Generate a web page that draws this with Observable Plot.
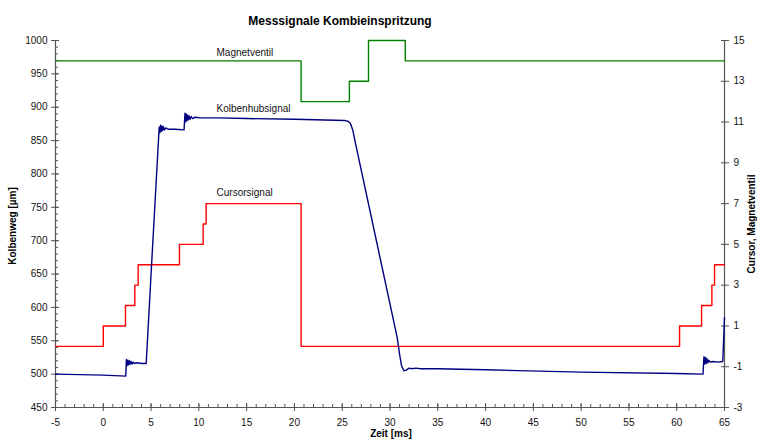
<!DOCTYPE html>
<html>
<head>
<meta charset="utf-8">
<script src="https://cdn.jsdelivr.net/npm/d3@7"></script>
<script src="https://cdn.jsdelivr.net/npm/@observablehq/plot@0.6"></script>
<style>
  html, body { margin: 0; padding: 0; background: #fff; overflow: hidden; }
</style>
</head>
<body>
<div id="chart"></div>
<script>
// ---- Data ----
const titleText = "Messsignale Kombieinspritzung";
const xLabel = "Zeit [ms]";
const yLeftLabel = "Kolbenweg [µm]";
const yRightLabel = "Cursor, Magnetventil";

const xTicks = [-5, 0, 5, 10, 15, 20, 25, 30, 35, 40, 45, 50, 55, 60, 65];
const xMinor = d3.range(-5, 66, 1);
const yLeftTicks = [450, 500, 550, 600, 650, 700, 750, 800, 850, 900, 950, 1000];
const yLeftMinor = d3.range(450, 1001, 10);
const yRightTicks = [-3, -1, 1, 3, 5, 7, 9, 11, 13, 15];

// Magnetventil (right axis), step signal
const mvTime  = [-5, 20.7, 25.75, 27.75, 31.6, 65];
const mvValue = [14, 12, 13, 15, 14, 14];

// Cursorsignal (right axis), step signal
const csTime  = [-5, 0, 2.32, 3.3, 3.65, 7.97, 10.45, 10.76, 20.7, 60.3, 62.6, 63.68, 63.96, 65];
const csValue = [0, 1, 2, 3, 4, 5, 6, 7, 0, 1, 2, 3, 4, 4];

// Kolbenhubsignal (left axis)
const khTime = [
  -5, 0, 2.35, 2.42, 2.5, 2.58, 2.66, 2.74, 2.82, 2.9, 3.0, 3.1, 3.25, 3.5, 4.0, 4.49,
  5.0, 5.85, 5.92, 5.99, 6.06, 6.13, 6.2, 6.3, 6.4, 6.55, 6.8, 7.5, 8.45,
  8.55, 8.62, 8.69, 8.76, 8.83, 8.9, 8.98, 9.08, 9.2, 9.35, 9.6, 10.2, 12, 15, 20,
  25.3, 25.6, 25.85, 26.1, 26.4, 30.75, 31.0, 31.2, 31.45, 31.7, 32.0, 32.3, 32.7, 33.2,
  35, 40, 50, 60, 62.75, 62.85, 62.93, 63.01, 63.09, 63.17, 63.26, 63.36, 63.5, 63.8,
  64.3, 64.82, 65
];
const khValue = [
  500, 498.5, 497, 522, 513, 521, 514, 520, 515, 519, 515, 518, 516, 517, 516, 516,
  650, 870, 862, 873, 864, 872, 865, 871, 866, 869, 867, 867, 866,
  891, 878, 890, 880, 888, 881, 887, 882, 886, 883, 885, 884, 884, 883, 882,
  880, 879, 876, 866, 845, 555, 530, 513, 505, 506, 509, 508, 509, 508,
  508, 506.5, 503, 501, 500, 526, 515, 525, 516, 523, 517, 521, 518, 519,
  518, 519, 585
];

const labelNames = ["Magnetventil", "Kolbenhubsignal", "Cursorsignal"];
const labelX = [11.85, 11.85, 11.85];
const labelY = [981.6, 897.6, 772];

// ---- Right axis mapping onto left scale ----
const leftDomain = [450, 1000];
const rightDomain = [-3, 15];
const toLeft = r => leftDomain[0] + (r - rightDomain[0]) * (leftDomain[1] - leftDomain[0]) / (rightDomain[1] - rightDomain[0]);
const fromLeft = v => rightDomain[0] + (v - leftDomain[0]) * (rightDomain[1] - rightDomain[0]) / (leftDomain[1] - leftDomain[0]);

const mv = mvTime.map((t, i) => ({t, v: toLeft(mvValue[i])}));
const cs = csTime.map((t, i) => ({t, v: toLeft(csValue[i])}));
const kh = khTime.map((t, i) => ({t, v: khValue[i]}));
const labels = labelNames.map((n, i) => ({n, x: labelX[i], y: labelY[i]}));

const axisColor = "#555";
const font = "'Liberation Sans', Arial, Helvetica, sans-serif";

const chart = Plot.plot({
  width: 757,
  height: 448,
  marginLeft: 55,
  marginRight: 33,
  marginTop: 40,
  marginBottom: 41,
  style: {fontFamily: font, fontSize: "10px", color: "#000", background: "#fff"},
  x: {domain: [-5, 65], axis: null},
  y: {domain: leftDomain, axis: null},
  marks: [
    // axis lines
    Plot.ruleX([-5], {stroke: axisColor, strokeWidth: 1.2}),
    Plot.ruleX([65], {stroke: axisColor, strokeWidth: 1.2}),
    Plot.ruleY([450], {stroke: axisColor, strokeWidth: 1.2}),
    // bottom axis
    Plot.axisX(xTicks, {anchor: "bottom", tickSize: 8, dy: -4, text: null, stroke: axisColor}),
    Plot.axisX(xMinor, {anchor: "bottom", tickSize: 3, dy: -3, text: null, stroke: axisColor}),
    Plot.axisX(xTicks, {anchor: "bottom", tickSize: 0, tickPadding: 11, fill: "#111", label: null,
      tickFormat: d => String(d)}),
    // left axis
    Plot.axisY(yLeftTicks, {anchor: "left", tickSize: 8, dx: 4, text: null, stroke: axisColor}),
    Plot.axisY(yLeftMinor, {anchor: "left", tickSize: 3, dx: 3, text: null, stroke: axisColor}),
    Plot.axisY(yLeftTicks, {anchor: "left", tickSize: 0, tickPadding: 8, fill: "#111", label: null,
      tickFormat: d => String(d)}),
    // right axis
    Plot.axisY(yRightTicks.map(toLeft), {anchor: "right", tickSize: 8, dx: -4, text: null, stroke: axisColor}),
    Plot.axisY(yRightTicks.map(toLeft), {anchor: "right", tickSize: 0, tickPadding: 9, fill: "#111", label: null,
      tickFormat: d => String(Math.round(fromLeft(d)))}),
    // series
    Plot.line(mv, {x: "t", y: "v", curve: "step-after", stroke: "#008000", strokeWidth: 1.4}),
    Plot.line(cs, {x: "t", y: "v", curve: "step-after", stroke: "#ff0000", strokeWidth: 1.4}),
    Plot.line(kh, {x: "t", y: "v", stroke: "#000080", strokeWidth: 1.4}),
    // series labels
    Plot.text(labels, {x: "x", y: "y", text: "n", textAnchor: "start", fill: "#111", fontSize: 10}),
    // titles
    Plot.text([titleText], {frameAnchor: "top", textAnchor: "middle", dx: -50, dy: -24, fontWeight: "bold", fontSize: 12, fill: "#000"}),
    Plot.text([xLabel], {frameAnchor: "bottom", textAnchor: "middle", dx: 1, dy: 29, fontWeight: "bold", fontSize: 10, fill: "#000"}),
    Plot.text([yLeftLabel], {frameAnchor: "left", textAnchor: "middle", dx: -43, dy: 2, rotate: -90, fontWeight: "bold", fontSize: 10, fill: "#000"}),
    Plot.text([yRightLabel], {frameAnchor: "right", textAnchor: "middle", dx: 27, dy: 0, rotate: -90, fontWeight: "bold", fontSize: 10, fill: "#000"})
  ]
});
document.getElementById("chart").appendChild(chart);
</script>
</body>
</html>
